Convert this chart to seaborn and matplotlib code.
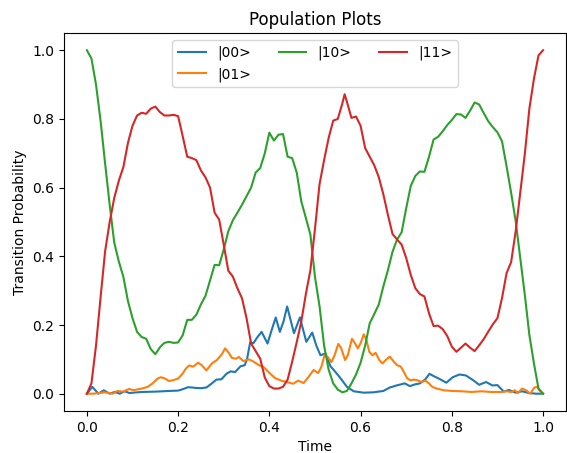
import numpy as np
import pandas as pd
import matplotlib
matplotlib.use("Agg")
import matplotlib.pyplot as plt
import seaborn as sns

# |00> population
t00 = [0, 0.012, 0.025, 0.037, 0.05, 0.061, 0.072, 0.083, 0.093, 0.12, 0.15, 0.18, 0.2, 0.21,
       0.222, 0.238, 0.25, 0.262, 0.273, 0.284, 0.295, 0.306, 0.315, 0.325, 0.337, 0.346, 0.351,
       0.358, 0.365, 0.374, 0.383, 0.396, 0.405, 0.414, 0.423, 0.431, 0.439, 0.454, 0.467, 0.481,
       0.494, 0.503, 0.512, 0.523, 0.534, 0.545, 0.556, 0.57, 0.585, 0.607, 0.628, 0.65, 0.664,
       0.679, 0.697, 0.708, 0.719, 0.73, 0.742, 0.751, 0.759, 0.773, 0.788, 0.802, 0.817, 0.831,
       0.846, 0.86, 0.875, 0.889, 0.9, 0.914, 0.925, 0.94, 0.954, 0.969, 0.985, 1.0]
p00 = [0, 0.02, 0.0, 0.01, 0.0, 0.005, 0.0, 0.007, 0.002, 0.005, 0.006, 0.008, 0.009, 0.013,
       0.019, 0.017, 0.016, 0.018, 0.029, 0.041, 0.042, 0.058, 0.065, 0.063, 0.08, 0.083, 0.1,
       0.15, 0.147, 0.165, 0.18, 0.146, 0.185, 0.222, 0.18, 0.21, 0.254, 0.176, 0.222, 0.151,
       0.178, 0.14, 0.112, 0.117, 0.08, 0.063, 0.045, 0.02, 0.007, 0.003, 0.004, 0.008, 0.018,
       0.024, 0.03, 0.022, 0.027, 0.03, 0.042, 0.058, 0.052, 0.043, 0.032, 0.048, 0.056, 0.053,
       0.04, 0.026, 0.034, 0.024, 0.025, 0.006, 0.011, 0.003, 0.007, 0.002, 0.0, 0.0]

# |01> population
t01 = [0, 0.014, 0.039, 0.057, 0.067, 0.079, 0.093, 0.101, 0.117, 0.126, 0.133, 0.144, 0.155,
       0.162, 0.17, 0.18, 0.188, 0.2, 0.209, 0.217, 0.224, 0.233, 0.244, 0.251, 0.262, 0.274,
       0.285, 0.296, 0.303, 0.311, 0.318, 0.327, 0.333, 0.343, 0.355, 0.366, 0.377, 0.387, 0.399,
       0.412, 0.426, 0.441, 0.452, 0.463, 0.475, 0.486, 0.497, 0.507, 0.514, 0.521, 0.528, 0.536,
       0.543, 0.551, 0.557, 0.566, 0.572, 0.581, 0.588, 0.594, 0.6, 0.607, 0.613, 0.619, 0.626,
       0.633, 0.641, 0.648, 0.655, 0.664, 0.673, 0.68, 0.688, 0.695, 0.702, 0.709, 0.717, 0.724,
       0.735, 0.742, 0.75, 0.757, 0.767, 0.782, 0.8, 0.822, 0.843, 0.865, 0.887, 0.909, 0.92,
       0.93, 0.938, 0.945, 0.954, 0.963, 0.972, 0.981, 0.987, 0.992, 1.0]
p01 = [0, 0.0, 0.004, 0.0, 0.008, 0.006, 0.014, 0.01, 0.014, 0.017, 0.02, 0.03, 0.044,
       0.048, 0.045, 0.037, 0.039, 0.044, 0.057, 0.073, 0.082, 0.079, 0.09, 0.084, 0.068, 0.088,
       0.098, 0.115, 0.132, 0.119, 0.104, 0.102, 0.107, 0.095, 0.1, 0.093, 0.083, 0.078, 0.062,
       0.046, 0.038, 0.033, 0.029, 0.038, 0.031, 0.049, 0.069, 0.06, 0.078, 0.112, 0.107, 0.092,
       0.112, 0.145, 0.134, 0.098, 0.112, 0.16, 0.146, 0.132, 0.147, 0.173, 0.155, 0.122, 0.112,
       0.119, 0.098, 0.088, 0.098, 0.108, 0.093, 0.083, 0.079, 0.063, 0.045, 0.039, 0.041, 0.039,
       0.034, 0.038, 0.03, 0.02, 0.015, 0.01, 0.008, 0.007, 0.005, 0.007, 0.005, 0.005, 0.007,
       0.005, 0.01, 0.002, 0.015, 0.01, 0.0, 0.018, 0.02, 0.01, 0.0]

# |10> population
t10 = list(np.round(np.arange(0, 1.001, 0.01), 2))
p10 = [1.0, 0.976, 0.90, 0.795, 0.67, 0.55, 0.44, 0.385, 0.34, 0.27,
       0.22, 0.18, 0.165, 0.16, 0.13, 0.115, 0.135, 0.148, 0.151, 0.148,
       0.149, 0.17, 0.215, 0.215, 0.23, 0.26, 0.285, 0.33, 0.375, 0.374,
       0.42, 0.473, 0.505, 0.527, 0.55, 0.575, 0.60, 0.644, 0.657, 0.70,
       0.76, 0.737, 0.754, 0.756, 0.69, 0.686, 0.644, 0.56, 0.512, 0.463,
       0.34, 0.255, 0.14, 0.07, 0.03, 0.012, 0.004, 0.008, 0.03, 0.056,
       0.09, 0.14, 0.205, 0.232, 0.26, 0.313, 0.36, 0.413, 0.449, 0.47,
       0.54, 0.605, 0.634, 0.647, 0.646, 0.69, 0.74, 0.748, 0.764, 0.782,
       0.797, 0.814, 0.813, 0.803, 0.824, 0.848, 0.842, 0.817, 0.793, 0.776,
       0.761, 0.735, 0.662, 0.585, 0.502, 0.395, 0.288, 0.171, 0.088, 0.015,
       0.0]

# |11> population
t11 = [0.0, 0.01, 0.02, 0.03, 0.04, 0.05, 0.06, 0.07, 0.08, 0.09,
       0.10, 0.11, 0.12, 0.13, 0.14, 0.15, 0.16, 0.17, 0.18, 0.19,
       0.20, 0.21, 0.22, 0.23, 0.24, 0.25, 0.26, 0.27, 0.28, 0.29,
       0.30, 0.31, 0.32, 0.33, 0.34, 0.35, 0.36, 0.37, 0.38, 0.39,
       0.40, 0.41, 0.42, 0.43, 0.44, 0.45, 0.46, 0.47, 0.48, 0.49,
       0.50, 0.51, 0.52, 0.53, 0.54, 0.55, 0.56, 0.565, 0.57, 0.58, 0.59,
       0.60, 0.61, 0.62, 0.63, 0.64, 0.65, 0.66, 0.67, 0.68, 0.69,
       0.70, 0.71, 0.72, 0.73, 0.74, 0.75, 0.76, 0.77, 0.78, 0.79,
       0.80, 0.81, 0.82, 0.83, 0.84, 0.85, 0.86, 0.87, 0.88, 0.89,
       0.90, 0.91, 0.92, 0.93, 0.94, 0.95, 0.96, 0.97, 0.98, 0.99, 1.0]
p11 = [0.0, 0.03, 0.14, 0.28, 0.415, 0.50, 0.57, 0.62, 0.66, 0.73,
       0.78, 0.81, 0.818, 0.815, 0.83, 0.836, 0.82, 0.81, 0.81, 0.812,
       0.808, 0.75, 0.69, 0.686, 0.68, 0.65, 0.63, 0.60, 0.527, 0.507,
       0.434, 0.358, 0.341, 0.307, 0.278, 0.22, 0.146, 0.124, 0.102, 0.047,
       0.022, 0.015, 0.015, 0.02, 0.041, 0.093, 0.15, 0.21, 0.29, 0.36,
       0.48, 0.61, 0.68, 0.745, 0.795, 0.80, 0.845, 0.872, 0.85, 0.803, 0.807,
       0.78, 0.715, 0.69, 0.665, 0.63, 0.58, 0.52, 0.465, 0.449, 0.434,
       0.395, 0.346, 0.307, 0.29, 0.283, 0.234, 0.197, 0.198, 0.188, 0.168,
       0.137, 0.122, 0.134, 0.146, 0.134, 0.124, 0.141, 0.159, 0.181, 0.202,
       0.22, 0.278, 0.351, 0.383, 0.473, 0.585, 0.698, 0.83, 0.917, 0.985, 1.0]

states = ["|00>", "|01>", "|10>", "|11>"]
colors = ["#1f77b4", "#ff7f0e", "#2ca02c", "#d62728"]

frames = []
for name, tt, pp in zip(states, [t00, t01, t10, t11], [p00, p01, p10, p11]):
    frames.append(pd.DataFrame({"Time": tt, "Transition Probability": pp, "state": name}))
df = pd.concat(frames, ignore_index=True)

fig, ax = plt.subplots(figsize=(5.67, 4.53), dpi=100)
fig.subplots_adjust(left=0.113, right=0.998, bottom=0.093, top=0.927)

sns.lineplot(data=df, x="Time", y="Transition Probability", hue="state",
             hue_order=states, palette=colors, estimator=None, sort=True,
             linewidth=1.5, ax=ax)

ax.set_title("Population Plots")
ax.set_xlabel("Time")
ax.set_ylabel("Transition Probability")
sns.move_legend(ax, "upper center", ncol=3, title=None, frameon=True)

fig.savefig("out.png", dpi=100)
